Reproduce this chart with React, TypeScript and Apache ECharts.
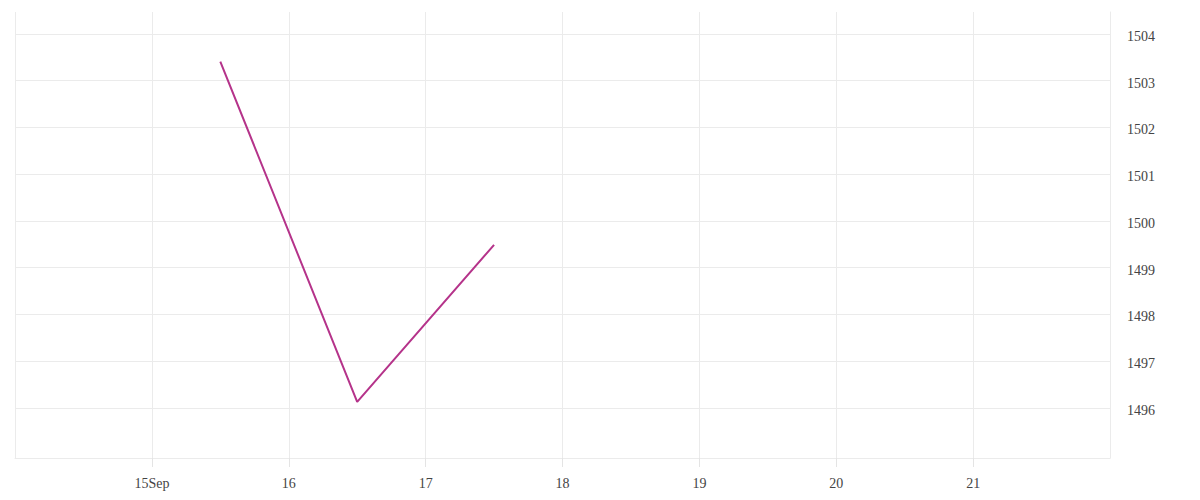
import React, { useEffect, useRef } from 'react';
import * as echarts from 'echarts';

// data
const pointTimes = ['2023-09-15T12:00:00Z', '2023-09-16T12:00:00Z', '2023-09-17T12:00:00Z'];
const pointValues = [1503.41, 1496.13, 1499.49];

// axis ticks
const xTickDays = [15, 16, 17, 18, 19, 20, 21];
const xTickLabels = ['15Sep', '16', '17', '18', '19', '20', '21'];
const yTicks = [1496, 1497, 1498, 1499, 1500, 1501, 1502, 1503, 1504];

const DAY = 86400000;
const xMin = Date.UTC(2023, 8, 14);
const xMax = Date.UTC(2023, 8, 22);
const yMin = 1494.93;
const yMax = 1504.47;

const gridColor = '#ebebeb';
const textColor = '#444';

function LineChart() {
  const chartRef = useRef<HTMLDivElement | null>(null);

  useEffect(() => {
    if (!chartRef.current) return undefined;

    const myChart = echarts.init(chartRef.current, null, { renderer: 'svg' });

    const seriesData = pointTimes.map((t, i) => [Date.parse(t), pointValues[i]]);

    const option = {
      animation: false,
      textStyle: { fontFamily: 'serif' },
      grid: { left: 15, right: 90, top: 12, bottom: 42 },
      xAxis: {
        type: 'value',
        min: xMin,
        max: xMax,
        interval: DAY,
        axisLine: { show: true, lineStyle: { color: gridColor, width: 1 } },
        axisTick: { show: true, length: 9, lineStyle: { color: '#e4e4e4', width: 1 } },
        splitLine: { show: true, lineStyle: { color: gridColor, width: 1 } },
        axisLabel: {
          showMinLabel: false,
          showMaxLabel: false,
          margin: 18,
          fontSize: 14,
          fontFamily: 'serif',
          color: textColor,
          formatter: (v: number) => {
            const idx = xTickDays.indexOf(new Date(v).getUTCDate());
            return idx >= 0 ? xTickLabels[idx] : '';
          },
        },
      },
      yAxis: {
        type: 'value',
        position: 'right',
        min: yMin,
        max: yMax,
        axisLine: { show: true, lineStyle: { color: gridColor, width: 1 } },
        axisTick: { show: false, customValues: yTicks },
        splitLine: { show: true, lineStyle: { color: gridColor, width: 1 } },
        axisLabel: {
          customValues: yTicks,
          margin: 17,
          fontSize: 14,
          fontFamily: 'serif',
          color: textColor,
          verticalAlign: 'top',
          lineHeight: 5,
          formatter: (v: number) => String(v),
        },
      },
      series: [
        {
          type: 'line',
          data: seriesData,
          showSymbol: false,
          lineStyle: { color: '#b5338a', width: 2 },
          itemStyle: { color: '#b5338a' },
        },
      ],
    };

    myChart.setOption(option);

    return () => {
      myChart.dispose();
    };
  }, []);

  return (
    <div
      ref={chartRef}
      style={{
        position: 'fixed',
        left: 0,
        top: 0,
        width: '1200px',
        height: '500px',
        background: '#fff',
      }}
    />
  );
}

export default function App() {
  return <LineChart />;
}
